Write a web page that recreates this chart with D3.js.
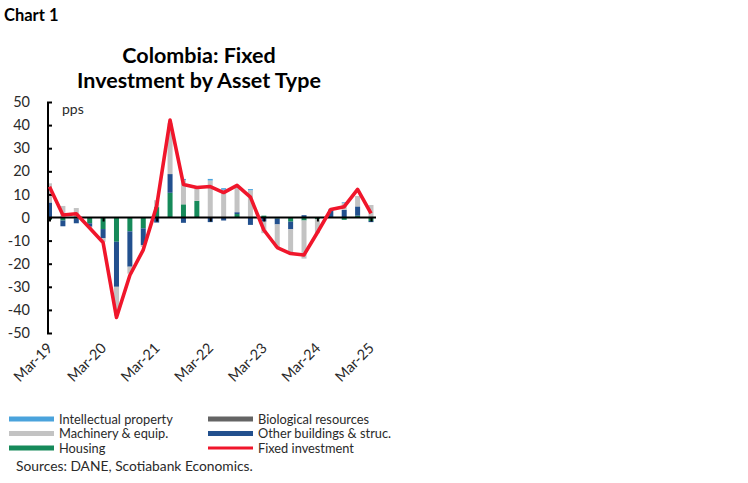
<!DOCTYPE html>
<html><head><meta charset="utf-8">
<script src="https://cdn.jsdelivr.net/npm/d3@7"></script>
<style>
body{margin:0;background:#fff;}
text{font-family:Lato,"Open Sans",sans-serif;}
</style></head>
<body><svg id="c" width="748" height="483"></svg>
<script>
const quarters = ["Mar-19","Jun-19","Sep-19","Dec-19","Mar-20","Jun-20","Sep-20","Dec-20","Mar-21","Jun-21","Sep-21","Dec-21","Mar-22","Jun-22","Sep-22","Dec-22","Mar-23","Jun-23","Sep-23","Dec-23","Mar-24","Jun-24","Sep-24","Dec-24","Mar-25"];
const tickLabels = ["Mar-19","Mar-20","Mar-21","Mar-22","Mar-23","Mar-24","Mar-25"];
const yTicks = [50,40,30,20,10,0,-10,-20,-30,-40,-50];
const housing   = [-1,-1.3,-0.5,-2.5,-5,-10.5,-6,-4.7,4.5,10.7,5.7,7.2,0,0,1.5,0,0.8,-0.5,-1.8,-1.3,-0.8,0,-1,0.8,-1.5];
const otherBldg = [6.5,-2.5,-2,-1.5,-4,-19.5,-15.3,-7.2,-2.2,8.1,-2.3,0,-2,-1.3,0.8,-3.2,-1.8,-2.5,-3.3,1,0,3.5,3.3,4,-0.5];
const machinery = [8.3,5,4.1,-0.5,-1.5,-12.5,-3,-0.8,3,22,10.5,5.5,16,12,11.5,11.8,-5,-10,-10.8,-16.5,-6,0.3,3,4.5,5.4];
const biological= [0,0,0,0,0,0,0,0,0,0,0,0,0,0,0,0,0,0,0,0,0,0,0,0,0];
const intellect = [0,0,0,0,0,0,0,0,0,0,0.5,0,0.7,0.7,0,0.5,0,0,0,0,0,0,0.3,0,0];
const fixedInv  = [13.3,1.1,1.6,-4.5,-10.8,-43.3,-25,-14,5,42.2,14.3,13,13.4,10.8,13.9,8.8,-5.4,-13,-15.6,-16.2,-6.5,3.5,4.7,12.2,1.8];

const seriesKeys = ["housing","other","machinery","bio","ip"];
const colors = {housing:"#168a5a", other:"#22508e", machinery:"#c3c3c3", bio:"#646464", ip:"#4aa3dc", line:"#f0162b"};
const rows = quarters.map((q,i)=>({q, housing:housing[i], other:otherBldg[i], machinery:machinery[i], bio:biological[i], ip:intellect[i]}));

const svg = d3.select("#c");
const x = d3.scalePoint().domain(quarters).range([49.5,371]);
const y = d3.scaleLinear().domain([-50,50]).range([333,102]);
const bw = 5;

// titles
svg.append("text").attr("x",4).attr("y",21).attr("font-size",16.5).attr("font-weight",700).text("Chart 1");
svg.append("text").attr("x",199).attr("y",63).attr("text-anchor","middle").attr("font-size",21.5).attr("font-weight",700).text("Colombia: Fixed");
svg.append("text").attr("x",199).attr("y",88).attr("text-anchor","middle").attr("font-size",21.5).attr("font-weight",700).text("Investment by Asset Type");

// bars
const stack = d3.stack().keys(seriesKeys).offset(d3.stackOffsetDiverging)(rows);
svg.append("g").selectAll("g").data(stack).join("g").attr("fill",d=>colors[d.key])
  .selectAll("rect").data(d=>d).join("rect")
  .attr("x",d=>x(d.data.q)-bw/2).attr("width",bw)
  .attr("y",d=>y(Math.max(d[0],d[1]))).attr("height",d=>Math.abs(y(d[0])-y(d[1])));

// y axis
const yAxis = d3.axisLeft(y).tickValues(yTicks).tickSize(-4).tickPadding(18).tickFormat(d=>d);
const gy = svg.append("g").attr("transform","translate(48,0)").call(yAxis);
gy.select(".domain").attr("stroke","#000").attr("stroke-width",2).attr("d","M0,"+y(50)+"V"+y(-50));
gy.selectAll(".tick line").attr("stroke","#000").attr("stroke-width",2).attr("x1",-1);
gy.selectAll(".tick text").attr("font-size",14.5).attr("fill","#2a2a2a").attr("font-family","Lato,sans-serif");

// x axis at zero
const xAxis = d3.axisBottom(x).tickValues(tickLabels).tickSize(4).tickFormat("");
const gx = svg.append("g").attr("transform","translate(0,"+y(0)+")").call(xAxis);
gx.select(".domain").attr("stroke","#000").attr("stroke-width",2).attr("d","M48,0H376");
gx.selectAll(".tick line").attr("stroke","#000").attr("stroke-width",2);

// x labels
svg.append("g").selectAll("text").data(tickLabels).join("text")
  .attr("transform",d=>"translate("+(x(d)+4)+",349) rotate(-45)")
  .attr("text-anchor","end").attr("font-size",14.5).attr("fill","#2a2a2a").text(d=>d);

// pps
svg.append("text").attr("x",62).attr("y",114).attr("font-size",14).attr("fill","#2a2a2a").text("pps");

// line
svg.append("path").datum(fixedInv).attr("fill","none").attr("stroke",colors.line).attr("stroke-width",3.6)
  .attr("stroke-linejoin","round")
  .attr("d",d3.line().x((d,i)=>x(quarters[i])).y(d=>y(d)));

// legend
const legend = [
  {label:"Intellectual property", c:colors.ip, col:0, row:0},
  {label:"Biological resources", c:colors.bio, col:1, row:0},
  {label:"Machinery & equip.", c:colors.machinery, col:0, row:1},
  {label:"Other buildings & struc.", c:colors.other, col:1, row:1},
  {label:"Housing", c:colors.housing, col:0, row:2},
  {label:"Fixed investment", c:colors.line, col:1, row:2, line:true}
];
const lg = svg.append("g");
legend.forEach(l=>{
  const sx = l.col===0?9:208, ty = 419 + l.row*14.5;
  lg.append("rect").attr("x",sx).attr("y",ty-(l.line?1.5:2.5)).attr("width",45).attr("height",l.line?3:5).attr("fill",l.c);
  lg.append("text").attr("x",sx+50).attr("y",ty+4.5).attr("font-size",12.8).attr("fill","#2a2a2a").text(l.label);
});
svg.append("text").attr("x",16).attr("y",471).attr("font-size",13.8).attr("fill","#2a2a2a").text("Sources: DANE, Scotiabank Economics.");
</script></body></html>
